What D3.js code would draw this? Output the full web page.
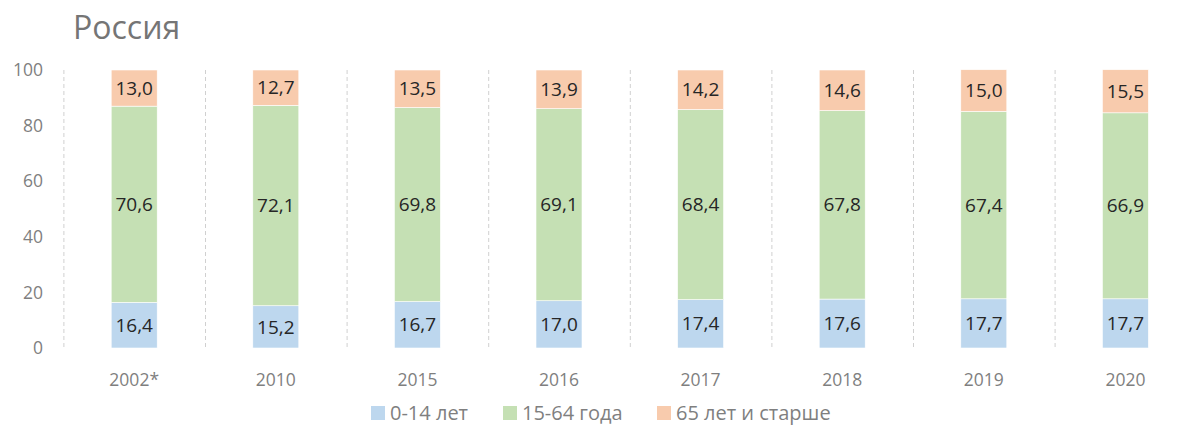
<!DOCTYPE html>
<html>
<head>
<meta charset="utf-8">
<script src="https://cdn.jsdelivr.net/npm/d3@7"></script>
<style>
  html, body { margin: 0; padding: 0; background: #fff; }
  svg { display: block; font-family: "Open Sans", "Noto Sans", sans-serif; }
</style>
</head>
<body>
<svg id="chart" width="1185" height="425"></svg>
<script>
const years = ["2002*", "2010", "2015", "2016", "2017", "2018", "2019", "2020"];
const kids = [16.4, 15.2, 16.7, 17.0, 17.4, 17.6, 17.7, 17.7];
const working = [70.6, 72.1, 69.8, 69.1, 68.4, 67.8, 67.4, 66.9];
const elderly = [13.0, 12.7, 13.5, 13.9, 14.2, 14.6, 15.0, 15.5];
const seriesNames = ["0-14 лет", "15-64 года", "65 лет и старше"];
const seriesColors = ["#bdd7ee", "#c5e0b4", "#f8cbad"];
const yTicks = [0, 20, 40, 60, 80, 100];

const svg = d3.select("#chart");

const rows = years.map((y, i) => ({ year: y, s0: kids[i], s1: working[i], s2: elderly[i] }));
const stack = d3.stack().keys(["s0", "s1", "s2"])(rows);

const x = d3.scaleBand().domain(years).range([63.4, 63.4 + 8 * 141.6]).padding(0);
const y = d3.scaleLinear().domain([0, 100]).range([348, 70]);
const barW = 46;
const fmt = (v) => v.toFixed(1).replace(".", ",");

// title
svg.append("text")
  .attr("x", 73).attr("y", 39)
  .attr("font-size", 32).attr("fill", "#757575")
  .text("Россия");

// dashed category separators
svg.append("g")
  .selectAll("line")
  .data(years)
  .join("line")
  .attr("x1", (d) => x(d) + 0.5).attr("x2", (d) => x(d) + 0.5)
  .attr("y1", y(100)).attr("y2", y(0))
  .attr("stroke", "#d0d0d0").attr("stroke-width", 1)
  .attr("stroke-dasharray", "4,3");

// y axis labels (no line)
svg.append("g")
  .selectAll("text")
  .data(yTicks)
  .join("text")
  .attr("x", 43).attr("y", (d) => y(d))
  .attr("dy", "0.35em")
  .attr("text-anchor", "end")
  .attr("font-size", 17.5).attr("fill", "#7f7f7f")
  .text((d) => d);

// bars
const layers = svg.append("g")
  .selectAll("g")
  .data(stack)
  .join("g")
  .attr("fill", (d, i) => seriesColors[i]);

layers.selectAll("rect")
  .data((d) => d)
  .join("rect")
  .attr("x", (d) => x(d.data.year) + (x.bandwidth() - barW) / 2)
  .attr("y", (d) => y(d[1]))
  .attr("width", barW)
  .attr("height", (d) => y(d[0]) - y(d[1]))
  .attr("stroke", "#fff").attr("stroke-width", 0.6);

// value labels
layers.selectAll("text")
  .data((d) => d.map((v) => ({ v, key: d.key })))
  .join("text")
  .attr("x", (d) => x(d.v.data.year) + x.bandwidth() / 2)
  .attr("y", (d) => y((d.v[0] + d.v[1]) / 2))
  .attr("dy", "0.35em")
  .attr("text-anchor", "middle")
  .attr("font-size", 19).attr("fill", "#262626")
  .text((d) => fmt(d.v.data[d.key]));

// x labels
svg.append("g")
  .selectAll("text")
  .data(years)
  .join("text")
  .attr("x", (d) => x(d) + x.bandwidth() / 2)
  .attr("y", 380)
  .attr("dy", "0.35em")
  .attr("text-anchor", "middle")
  .attr("font-size", 17.5).attr("fill", "#7f7f7f")
  .text((d) => d);

// legend
const legendX = [371, 503, 657];
const legend = svg.append("g")
  .selectAll("g")
  .data(seriesNames)
  .join("g")
  .attr("transform", (d, i) => `translate(${legendX[i]},406)`);
legend.append("rect")
  .attr("width", 14).attr("height", 14)
  .attr("fill", (d, i) => seriesColors[i]);
legend.append("text")
  .attr("x", 19).attr("y", 7)
  .attr("dy", "0.35em")
  .attr("font-size", 20).attr("fill", "#7f7f7f")
  .text((d) => d);
</script>
</body>
</html>
